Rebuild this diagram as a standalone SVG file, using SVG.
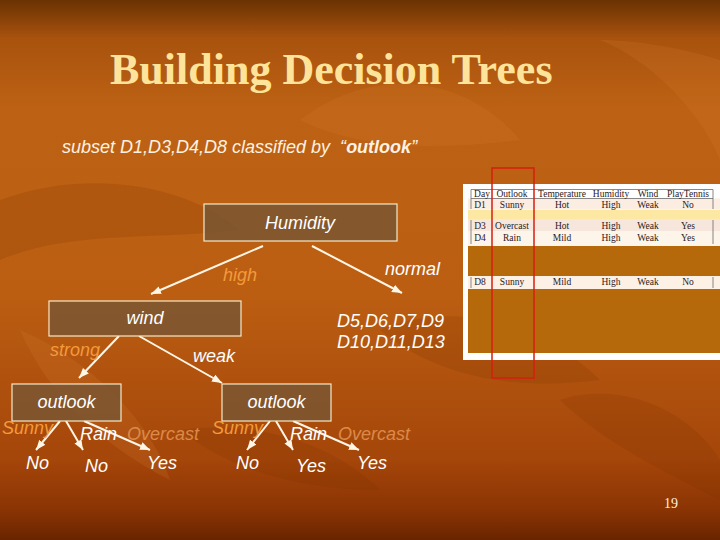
<svg xmlns="http://www.w3.org/2000/svg" width="720" height="540" viewBox="0 0 720 540">
  <defs>
    <linearGradient id="bg" x1="0" y1="0" x2="0" y2="1">
      <stop offset="0" stop-color="#6a3202"/>
      <stop offset="0.07" stop-color="#a8520e"/>
      <stop offset="0.2" stop-color="#bd6214"/>
      <stop offset="0.55" stop-color="#bb5e12"/>
      <stop offset="0.85" stop-color="#a5460a"/>
      <stop offset="0.94" stop-color="#8c3504"/>
      <stop offset="1" stop-color="#6a2400"/>
    </linearGradient>
    <marker id="ah" markerUnits="userSpaceOnUse" markerWidth="12" markerHeight="10" refX="10" refY="4" orient="auto">
      <path d="M0,0 L10,4 L0,8 Z" fill="#fff6e6"/>
    </marker>
    <style>
      .box { fill: #7a5633; fill-opacity: 0.85; stroke: #f6e8c6; stroke-width: 1.2; }
      .t { font-family: "Liberation Sans", Arial, sans-serif; font-style: italic; font-size: 18px; fill: #ffffff; }
      .org { fill: #f39a3a; }
      .ovc { fill: #dc8a48; }
      .edge { stroke: #fff6e6; stroke-width: 2; fill: none; marker-end: url(#ah); }
      .tb { font-family: "Liberation Serif", "Times New Roman", serif; font-size: 9.5px; fill: #2a2020; text-anchor: middle; }
      .tl { stroke: #6b6b6b; stroke-width: 0.8; }
      .leaf { fill: #d98030; opacity: 0.18; }
      .leafd { fill: #7a3000; opacity: 0.18; }
    </style>
  </defs>

  <!-- background -->
  <rect x="0" y="0" width="720" height="540" fill="url(#bg)"/>
  <g id="texture">
    <path class="leafd" d="M0,200 C80,170 180,180 240,230 C160,240 70,230 0,260 Z"/>
    <path class="leaf" d="M300,120 C380,60 470,80 520,140 C440,150 360,150 300,120 Z"/>
    <path class="leafd" d="M380,330 C450,300 540,320 600,380 C520,390 440,380 380,330 Z"/>
    <path class="leaf" d="M20,330 C90,360 150,420 170,480 C110,450 50,400 20,330 Z"/>
    <path class="leafd" d="M560,400 C620,380 690,410 720,460 L720,500 C660,470 600,440 560,400 Z"/>
    <path class="leaf" d="M600,40 C650,60 700,110 720,160 L720,60 C690,50 640,40 600,40 Z"/>
    <path class="leafd" d="M180,430 C250,420 330,440 380,490 C300,490 230,470 180,430 Z"/>
  </g>

  <!-- title & subtitle -->
  <text x="110" y="84" font-family="'Liberation Serif', 'Times New Roman', serif" font-weight="bold" font-size="44" fill="#fde49a">Building Decision Trees</text>
  <text x="62" y="153" font-family="'Liberation Sans', Arial, sans-serif" font-style="italic" font-size="18" fill="#fff2e2">subset D1,D3,D4,D8 classified by &#160;“<tspan font-weight="bold">outlook</tspan>”</text>

  <!-- table image -->
  <g id="table">
    <rect x="463" y="184" width="257" height="176" fill="#ffffff"/>
    <rect x="468" y="188" width="252" height="58" fill="#ffffff"/>
    <rect x="468" y="198.5" width="252" height="11" fill="#fbede2"/>
    <rect x="468" y="210" width="252" height="9" fill="#fce8a2"/>
    <rect x="468" y="219" width="252" height="12" fill="#f6e6dc"/>
    <rect x="468" y="231" width="252" height="15" fill="#fdf4ea"/>
    <rect x="468" y="246" width="252" height="30" fill="#b5690a"/>
    <rect x="468" y="276" width="252" height="13" fill="#fdf0e4"/>
    <rect x="468" y="289" width="252" height="64" fill="#b5690a"/>
    <line class="tl" x1="471" y1="189.5" x2="713" y2="189.5"/>
    <line class="tl" x1="471" y1="198.5" x2="713" y2="198.5"/>
    <line class="tl" x1="471" y1="189.5" x2="471" y2="209"/>
    <line class="tl" x1="713" y1="189.5" x2="713" y2="209"/>
    <line class="tl" x1="471" y1="220" x2="471" y2="244"/>
    <line class="tl" x1="713" y1="220" x2="713" y2="244"/>
    <line class="tl" x1="471" y1="277" x2="471" y2="288"/>
    <line class="tl" x1="713" y1="277" x2="713" y2="288"/>
    <text class="tb" x="482" y="196.5">Day</text>
    <text class="tb" x="512" y="196.5">Outlook</text>
    <text class="tb" x="562" y="196.5">Temperature</text>
    <text class="tb" x="611" y="196.5">Humidity</text>
    <text class="tb" x="648" y="196.5">Wind</text>
    <text class="tb" x="688" y="196.5">PlayTennis</text>
    <text class="tb" x="480" y="207.5">D1</text>
    <text class="tb" x="512" y="207.5">Sunny</text>
    <text class="tb" x="562" y="207.5">Hot</text>
    <text class="tb" x="611" y="207.5">High</text>
    <text class="tb" x="648" y="207.5">Weak</text>
    <text class="tb" x="688" y="207.5">No</text>
    <text class="tb" x="480" y="229">D3</text>
    <text class="tb" x="512" y="229">Overcast</text>
    <text class="tb" x="562" y="229">Hot</text>
    <text class="tb" x="611" y="229">High</text>
    <text class="tb" x="648" y="229">Weak</text>
    <text class="tb" x="688" y="229">Yes</text>
    <text class="tb" x="480" y="241">D4</text>
    <text class="tb" x="512" y="241">Rain</text>
    <text class="tb" x="562" y="241">Mild</text>
    <text class="tb" x="611" y="241">High</text>
    <text class="tb" x="648" y="241">Weak</text>
    <text class="tb" x="688" y="241">Yes</text>
    <text class="tb" x="480" y="285">D8</text>
    <text class="tb" x="512" y="285">Sunny</text>
    <text class="tb" x="562" y="285">Mild</text>
    <text class="tb" x="611" y="285">High</text>
    <text class="tb" x="648" y="285">Weak</text>
    <text class="tb" x="688" y="285">No</text>
    <rect x="492" y="168" width="42" height="210" fill="none" stroke="#d81e10" stroke-width="1.5"/>
  </g>

  <!-- connectors -->
  <g id="connectors">
    <line class="edge" x1="263" y1="246" x2="151" y2="294"/>
    <line class="edge" x1="312" y1="246" x2="402" y2="293"/>
    <line class="edge" x1="119" y1="336" x2="79" y2="378"/>
    <line class="edge" x1="139" y1="336" x2="222" y2="383"/>
    <line class="edge" x1="60" y1="421" x2="36" y2="450"/>
    <line class="edge" x1="66" y1="421" x2="83" y2="450"/>
    <line class="edge" x1="84" y1="421" x2="150" y2="450"/>
    <line class="edge" x1="270" y1="421" x2="247" y2="450"/>
    <line class="edge" x1="276" y1="421" x2="293" y2="450"/>
    <line class="edge" x1="293" y1="421" x2="359" y2="450"/>
  </g>

  <!-- edge labels -->
  <g id="edge-labels">
    <text class="t org" x="223" y="281">high</text>
    <text class="t" x="385" y="275">normal</text>
    <text class="t org" x="50" y="356">strong</text>
    <text class="t" x="193" y="362">weak</text>
    <text class="t org" x="2" y="434">Sunny</text>
    <text class="t" x="80" y="440">Rain</text>
    <text class="t ovc" x="127" y="440">Overcast</text>
    <text class="t org" x="212" y="434">Sunny</text>
    <text class="t" x="290" y="440">Rain</text>
    <text class="t ovc" x="338" y="440">Overcast</text>
  </g>

  <!-- nodes -->
  <g id="node-humidity">
    <rect class="box" x="204" y="204" width="193" height="37"/>
    <text class="t" x="300" y="229" text-anchor="middle">Humidity</text>
  </g>
  <g id="node-wind">
    <rect class="box" x="49" y="301" width="192" height="35"/>
    <text class="t" x="145" y="324" text-anchor="middle">wind</text>
  </g>
  <g id="node-normal-set">
    <text class="t" x="337" y="327">D5,D6,D7,D9</text>
    <text class="t" x="337" y="348">D10,D11,D13</text>
  </g>
  <g id="node-outlook-strong">
    <rect class="box" x="12" y="384" width="109" height="37"/>
    <text class="t" x="66.5" y="408" text-anchor="middle">outlook</text>
  </g>
  <g id="node-outlook-weak">
    <rect class="box" x="222" y="384" width="109" height="37"/>
    <text class="t" x="276.5" y="408" text-anchor="middle">outlook</text>
  </g>
  <g id="leaf-1"><text class="t" x="26" y="469">No</text></g>
  <g id="leaf-2"><text class="t" x="85" y="472">No</text></g>
  <g id="leaf-3"><text class="t" x="147" y="469">Yes</text></g>
  <g id="leaf-4"><text class="t" x="236" y="469">No</text></g>
  <g id="leaf-5"><text class="t" x="296" y="472">Yes</text></g>
  <g id="leaf-6"><text class="t" x="357" y="469">Yes</text></g>

  <!-- page number -->
  <text x="671" y="508" text-anchor="middle" font-family="'Liberation Serif', 'Times New Roman', serif" font-size="14" fill="#fff0dc">19</text>
</svg>
